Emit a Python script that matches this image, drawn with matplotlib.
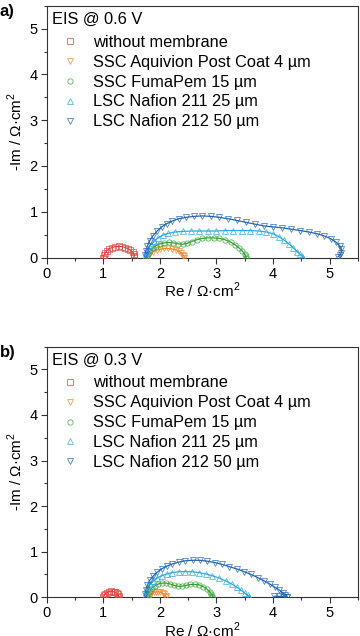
import matplotlib
matplotlib.use("Agg")
import matplotlib.pyplot as plt
from matplotlib.ticker import MultipleLocator

plt.rcParams["font.family"] = ["Liberation Sans", "DejaVu Sans"]
plt.rcParams["mathtext.fontset"] = "custom"
plt.rcParams["mathtext.rm"] = "Liberation Sans"

labels = ["without membrane", "SSC Aquivion Post Coat 4 µm", "SSC FumaPem 15 µm",
          "LSC Nafion 211 25 µm", "LSC Nafion 212 50 µm"]
markers = ["s", "v", "o", "^", "v"]
colors = ["#E0443C", "#F08A30", "#36A236", "#2CAAE6", "#2466B2"]

# ---- panel a: EIS @ 0.6 V ----
red_a_re = [1.00, 1.01, 1.03, 1.06, 1.10, 1.15, 1.21, 1.27, 1.33, 1.39, 1.44, 1.48, 1.52, 1.54, 1.55, 1.54]
red_a_im = [0.00, 0.05, 0.10, 0.15, 0.19, 0.22, 0.24, 0.245, 0.24, 0.22, 0.19, 0.16, 0.12, 0.08, 0.04, 0.02]
orange_a_re = [1.78, 1.80, 1.83, 1.88, 1.94, 2.00, 2.07, 2.14, 2.21, 2.28, 2.34, 2.38, 2.41, 2.43, 2.43]
orange_a_im = [0.00, 0.05, 0.09, 0.13, 0.16, 0.18, 0.20, 0.20, 0.19, 0.17, 0.14, 0.10, 0.06, 0.03, 0.00]
green_a_re = [1.77, 1.79, 1.82, 1.87, 1.93, 2.00, 2.08, 2.16, 2.24, 2.32, 2.40, 2.48, 2.56, 2.65, 2.75,
              2.85, 2.95, 3.05, 3.15, 3.25, 3.33, 3.40, 3.46, 3.50, 3.52, 3.52]
green_a_im = [0.00, 0.07, 0.14, 0.21, 0.26, 0.30, 0.32, 0.33, 0.32, 0.30, 0.29, 0.31, 0.35, 0.39, 0.42,
              0.43, 0.43, 0.42, 0.39, 0.34, 0.28, 0.21, 0.14, 0.07, 0.03, 0.00]
lblue_a_re = [1.74, 1.76, 1.79, 1.84, 1.90, 1.97, 2.05, 2.15, 2.27, 2.40, 2.55, 2.70, 2.85, 3.00, 3.15,
              3.30, 3.45, 3.60, 3.75, 3.88, 4.00, 4.10, 4.20, 4.28, 4.36, 4.43, 4.48, 4.52, 4.53]
lblue_a_im = [0.02, 0.10, 0.19, 0.28, 0.36, 0.43, 0.49, 0.53, 0.56, 0.57, 0.58, 0.58, 0.58, 0.58, 0.59,
              0.59, 0.59, 0.59, 0.58, 0.56, 0.52, 0.46, 0.38, 0.30, 0.21, 0.13, 0.07, 0.03, 0.00]
dblue_a_re = [1.73, 1.75, 1.78, 1.82, 1.88, 1.95, 2.03, 2.12, 2.22, 2.34, 2.47, 2.61, 2.75, 2.90, 3.05,
              3.20, 3.36, 3.52, 3.68, 3.84, 4.00, 4.16, 4.32, 4.48, 4.63, 4.78, 4.91, 5.02, 5.11, 5.18,
              5.21, 5.21, 5.18, 5.15]
dblue_a_im = [0.05, 0.15, 0.26, 0.37, 0.48, 0.58, 0.67, 0.74, 0.80, 0.85, 0.88, 0.90, 0.91, 0.90, 0.88,
              0.85, 0.81, 0.77, 0.73, 0.69, 0.67, 0.65, 0.62, 0.59, 0.56, 0.52, 0.47, 0.41, 0.34, 0.26,
              0.18, 0.11, 0.05, 0.02]

# ---- panel b: EIS @ 0.3 V ----
red_b_re = [1.00, 1.01, 1.03, 1.06, 1.10, 1.14, 1.18, 1.21, 1.24, 1.26, 1.27, 1.26]
red_b_im = [0.00, 0.04, 0.07, 0.10, 0.12, 0.13, 0.12, 0.11, 0.09, 0.06, 0.03, 0.01]
orange_b_re = [1.80, 1.82, 1.85, 1.89, 1.93, 1.97, 2.01, 2.05, 2.08, 2.10, 2.11]
orange_b_im = [0.00, 0.04, 0.08, 0.11, 0.12, 0.12, 0.11, 0.09, 0.06, 0.03, 0.00]
green_b_re = [1.77, 1.79, 1.82, 1.86, 1.91, 1.97, 2.04, 2.11, 2.18, 2.25, 2.32, 2.39, 2.46, 2.54, 2.62,
              2.70, 2.77, 2.83, 2.88, 2.91, 2.93, 2.93]
green_b_im = [0.00, 0.07, 0.14, 0.20, 0.25, 0.29, 0.31, 0.31, 0.29, 0.26, 0.24, 0.24, 0.26, 0.28, 0.28,
              0.27, 0.23, 0.18, 0.12, 0.07, 0.03, 0.00]
lblue_b_re = [1.74, 1.76, 1.79, 1.83, 1.88, 1.95, 2.03, 2.12, 2.22, 2.33, 2.45, 2.57, 2.69, 2.81, 2.93,
              3.05, 3.16, 3.27, 3.36, 3.44, 3.50, 3.55, 3.58, 3.58]
lblue_b_im = [0.02, 0.11, 0.20, 0.28, 0.35, 0.42, 0.47, 0.51, 0.54, 0.56, 0.56, 0.56, 0.54, 0.51, 0.47,
              0.42, 0.36, 0.29, 0.22, 0.15, 0.09, 0.04, 0.01, 0.00]
dblue_b_re = [1.73, 1.75, 1.78, 1.82, 1.88, 1.95, 2.03, 2.12, 2.22, 2.33, 2.45, 2.58, 2.71, 2.84, 2.97,
              3.10, 3.23, 3.36, 3.49, 3.61, 3.73, 3.84, 3.94, 4.03, 4.11, 4.17, 4.22, 4.25, 4.24, 4.18,
              4.10, 4.02]
dblue_b_im = [0.06, 0.16, 0.27, 0.37, 0.46, 0.55, 0.62, 0.68, 0.73, 0.77, 0.80, 0.81, 0.81, 0.79, 0.76,
              0.72, 0.67, 0.62, 0.56, 0.50, 0.43, 0.36, 0.29, 0.22, 0.16, 0.10, 0.05, 0.01, 0.00, 0.01,
              0.02, 0.02]

panels = [
    ("a)", "EIS @ 0.6 V", [(red_a_re, red_a_im), (orange_a_re, orange_a_im), (green_a_re, green_a_im),
                           (lblue_a_re, lblue_a_im), (dblue_a_re, dblue_a_im)]),
    ("b)", "EIS @ 0.3 V", [(red_b_re, red_b_im), (orange_b_re, orange_b_im), (green_b_re, green_b_im),
                           (lblue_b_re, lblue_b_im), (dblue_b_re, dblue_b_im)]),
]

fig = plt.figure(figsize=(3.6, 6.36), dpi=100)
rects = [[0.130, 0.595, 0.864, 0.396], [0.130, 0.061, 0.864, 0.394]]

for rect, (tag, title, series) in zip(rects, panels):
    ax = fig.add_axes(rect)
    for (re, im), c, m, lab in zip(series, colors, markers, labels):
        ax.plot(re, im, color=c, lw=0.9, zorder=2)
        ax.plot(re, im, ls="none", marker=m, ms=3.8, mfc="none", mec=c, mew=0.6,
                alpha=0.8, label=lab, zorder=3)
    ax.set_xlim(0, 5.5)
    ax.set_ylim(0, 5.5)
    ax.xaxis.set_major_locator(MultipleLocator(1))
    ax.xaxis.set_minor_locator(MultipleLocator(0.5))
    ax.yaxis.set_major_locator(MultipleLocator(1))
    ax.yaxis.set_minor_locator(MultipleLocator(0.5))
    ax.tick_params(which="both", direction="out", labelsize=10.5, width=0.8, color="#333333", pad=2)
    ax.tick_params(which="major", length=4.5)
    ax.tick_params(which="minor", length=2.5)
    for s in ax.spines.values():
        s.set_linewidth(0.8)
        s.set_color("#333333")
    ax.set_xlabel("Re / Ω·cm$^2$", fontsize=11, labelpad=0)
    ax.set_ylabel("-Im / Ω·cm$^2$", fontsize=11, labelpad=3)
    ax.text(0.017, 0.975, title, transform=ax.transAxes, fontsize=11.8, va="top", ha="left")
    ax.legend(loc="upper left", bbox_to_anchor=(0.047, 0.885), frameon=False, fontsize=11.8,
              borderaxespad=0, borderpad=0, handlelength=1.0, handletextpad=0.95,
              labelspacing=0.3, markerscale=1.0)
    fig.text(0.0, rect[1] + rect[3] + 0.002, tag, fontsize=12, fontweight="bold", va="top", ha="left")

fig.savefig("out.png", dpi=100)
